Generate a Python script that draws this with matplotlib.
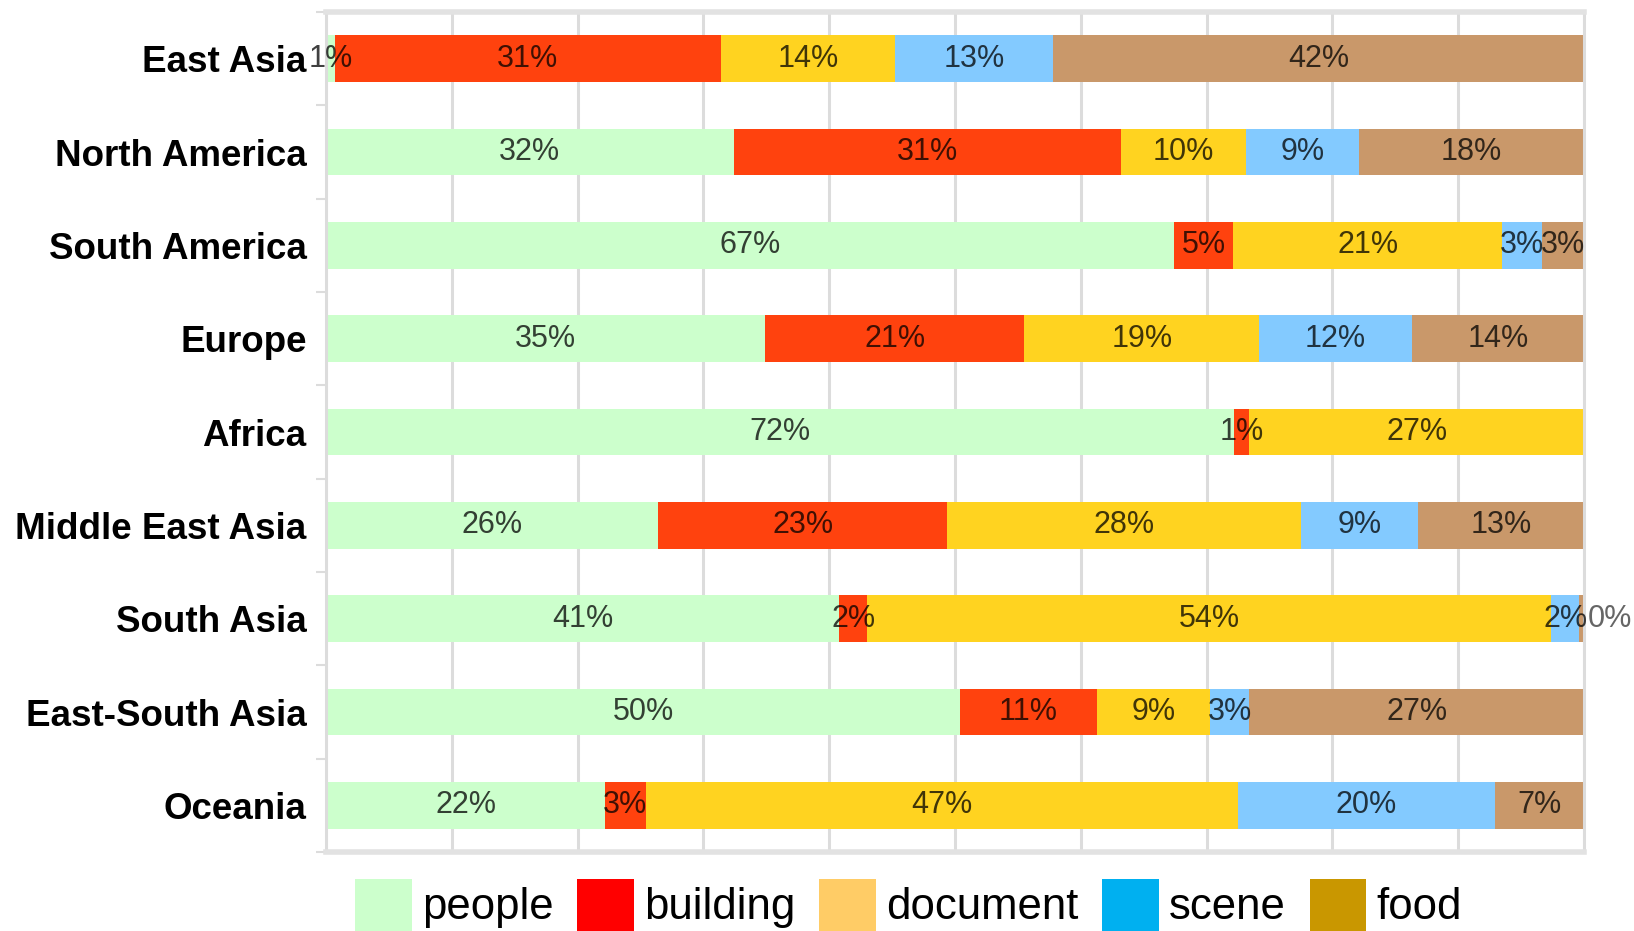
import matplotlib
matplotlib.use("agg")
import matplotlib.pyplot as plt
from matplotlib.patches import Patch
from matplotlib.ticker import MultipleLocator, FixedLocator

# regions, top to bottom
regions = ["East Asia", "North America", "South America", "Europe", "Africa",
           "Middle East Asia", "South Asia", "East-South Asia", "Oceania"]
categories = ["people", "building", "document", "scene", "food"]

# share of each category per region (%)
people   = [0.7, 32.4, 67.4, 34.9, 72.2, 26.4, 40.8, 50.4, 22.2]
building = [30.7, 30.8, 4.7, 20.6, 1.2, 23.0, 2.2, 10.9, 3.2]
document = [13.8, 9.9, 21.4, 18.7, 26.6, 28.1, 54.4, 9.0, 47.1]
scene    = [12.6, 9.0, 3.2, 12.1, 0.0, 9.3, 2.2, 3.1, 20.4]
food     = [42.2, 17.9, 3.3, 13.7, 0.0, 13.2, 0.4, 26.6, 7.1]
series = [people, building, document, scene, food]

BAR_COLORS = ["#ccffcc", "#ff420e", "#ffd320", "#83caff", "#c9986a"]
LEG_COLORS = ["#ccffcc", "#ff0000", "#ffcc66", "#00b0f0", "#c99700"]
GRID = "#dcdcdc"
BASE = "Liberation Sans"

fig = plt.figure(figsize=(16.34, 9.31), dpi=100)
ax = fig.add_axes([326/1634, 1-852/931, (1584-326)/1634, (852-12)/931])

ypos = list(range(len(regions)))
left = [0.0]*len(regions)
for k, vals in enumerate(series):
    ax.barh(ypos, vals, left=left, height=0.5, color=BAR_COLORS[k], zorder=2)
    for i, (v, l) in enumerate(zip(vals, left)):
        if v == 0:
            continue  # Africa has no scene / food label
        txt = f"{v:.0f}%"
        if v < 1 and l + v >= 99.5:
            ax.text(100.3, i, txt, ha="left", va="center", fontsize=22,
                    family=BASE, color="black", alpha=0.6, zorder=3, clip_on=False)
        else:
            ax.text(l + v/2, i, txt, ha="center", va="center", fontsize=22,
                    family=BASE, color="black", alpha=0.75, zorder=3)
    left = [a + b for a, b in zip(left, vals)]

ax.set_xlim(0, 100)
ax.set_ylim(len(regions)-0.5, -0.5)
ax.xaxis.set_major_locator(MultipleLocator(10))
ax.set_xticklabels([])
ax.tick_params(axis="x", length=0)
ax.grid(axis="x", color=GRID, lw=2.2)
ax.set_axisbelow(True)

ax.set_yticks(ypos)
ax.set_yticklabels(regions, family=BASE, size=26.5, weight="bold")
ax.yaxis.set_minor_locator(FixedLocator([y + 0.5 for y in range(-1, len(regions))]))
ax.tick_params(axis="y", which="major", length=0, pad=14)
ax.tick_params(axis="y", which="minor", length=7, width=1.5, color=GRID)

for s in ["left", "right"]:
    ax.spines[s].set_color(GRID)
    ax.spines[s].set_linewidth(2.2)
for s in ["top", "bottom"]:
    ax.spines[s].set_color("#e2e2e2")
    ax.spines[s].set_linewidth(4)

handles = [Patch(facecolor=c, edgecolor="none") for c in LEG_COLORS]
fig.legend(handles, categories, loc="upper left", bbox_to_anchor=(355/1634, 1-879/931),
           ncol=5, frameon=False, prop=dict(family=BASE, size=31.5),
           handlelength=1.3, handleheight=1.45, handletextpad=0.23,
           columnspacing=0.54, borderpad=0, borderaxespad=0)

fig.savefig("out.png", dpi=100)
